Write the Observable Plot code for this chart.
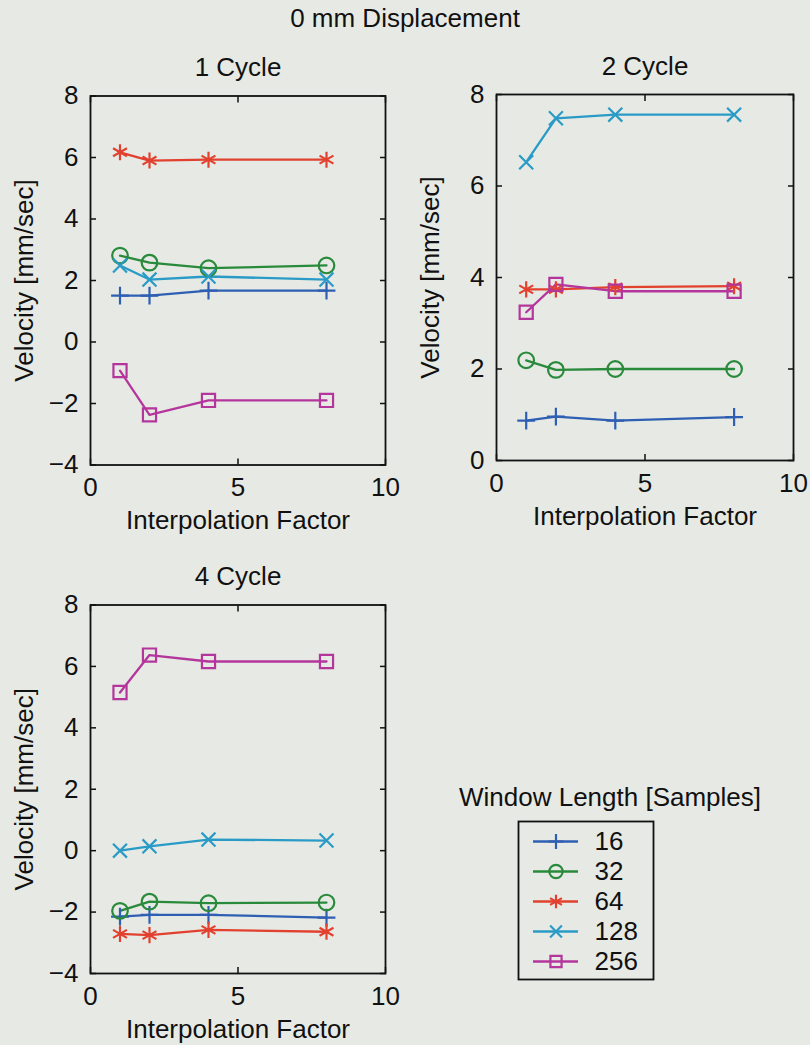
<!DOCTYPE html>
<html>
<head>
<meta charset="utf-8">
<script src="https://cdn.jsdelivr.net/npm/d3@7"></script>
<script src="https://cdn.jsdelivr.net/npm/@observablehq/plot@0.6"></script>
<style>
  html, body { margin: 0; padding: 0; background: #e7eae4; }
  #chart { position: relative; width: 810px; height: 1045px; background: #e7eae4; overflow: hidden;
           font-family: "Liberation Sans", Arial, Helvetica, sans-serif; color: #111; }
  .abs { position: absolute; }
  .txt { position: absolute; font-size: 26px; white-space: nowrap; transform: translate(-50%, -50%); }
  svg { overflow: visible; }
</style>
</head>
<body>
<div id="chart"></div>
<script>
// ---- data ----
const factors = [1, 2, 4, 8];
const windows = ["16", "32", "64", "128", "256"];
const windowColors = ["#2f5fb3", "#2a8a3c", "#e2412f", "#2a9bc6", "#b4369c"];
const windowSymbols = ["plus", "circle", "asterisk", "times", "square"];

// 1 Cycle
const c1_w16  = [1.51, 1.51, 1.67, 1.67];
const c1_w32  = [2.81, 2.58, 2.40, 2.49];
const c1_w64  = [6.17, 5.90, 5.93, 5.93];
const c1_w128 = [2.49, 2.03, 2.13, 2.03];
const c1_w256 = [-0.93, -2.37, -1.90, -1.90];
// 2 Cycle
const c2_w16  = [0.87, 0.96, 0.87, 0.95];
const c2_w32  = [2.19, 1.98, 2.00, 2.00];
const c2_w64  = [3.74, 3.74, 3.79, 3.81];
const c2_w128 = [6.52, 7.48, 7.56, 7.56];
const c2_w256 = [3.24, 3.85, 3.70, 3.70];
// 4 Cycle
const c4_w16  = [-2.15, -2.09, -2.09, -2.18];
const c4_w32  = [-1.96, -1.66, -1.71, -1.69];
const c4_w64  = [-2.71, -2.75, -2.58, -2.64];
const c4_w128 = [0.00, 0.14, 0.36, 0.33];
const c4_w256 = [5.15, 6.37, 6.16, 6.16];

const xTicks = [0, 5, 10];
const yTicksA = [-4, -2, 0, 2, 4, 6, 8];
const yTicksB = [0, 2, 4, 6, 8];

const mainTitle = "0 mm Displacement";
const xLabel = "Interpolation Factor";
const yLabel = "Velocity [mm/sec]";
const legendTitle = "Window Length [Samples]";

// ---- styles ----
const FONT = '"Liberation Sans", Arial, Helvetica, sans-serif';
const markerR = {plus: 5.8, circle: 7.8, asterisk: 7.6, times: 6.4, square: 7.4};

function rowsOf(series) {
  return windows.flatMap((w, i) => factors.map((f, j) => ({factor: f, velocity: series[i][j], window: w})));
}

const chart = document.getElementById("chart");

function addText(str, x, y, size) {
  const d = document.createElement("div");
  d.className = "txt";
  d.style.left = x + "px";
  d.style.top = y + "px";
  if (size) d.style.fontSize = size + "px";
  d.textContent = str;
  chart.appendChild(d);
}

function panel({title, series, yDomain, yTicks, left, top, width, height, margins}) {
  const rows = rowsOf(series);
  const dotMarks = windows.map((w, i) => Plot.dot(rows.filter(d => d.window === w), {
    x: "factor", y: "velocity", symbol: windowSymbols[i], r: markerR[windowSymbols[i]],
    stroke: windowColors[i], fill: "none", strokeWidth: 2.2
  }));
  const p = Plot.plot({
    width, height,
    marginLeft: margins[0], marginRight: margins[1], marginTop: margins[2], marginBottom: margins[3],
    style: {background: "transparent", fontSize: "26px", fontFamily: FONT, color: "#111"},
    x: {domain: [0, 10]},
    y: {domain: yDomain},
    color: {domain: windows, range: windowColors},
    marks: [
      Plot.line(rows, {x: "factor", y: "velocity", z: "window", stroke: "window", strokeWidth: 2.3}),
      ...dotMarks,
      Plot.frame({stroke: "#111", strokeWidth: 1.8}),
      Plot.axisX({anchor: "bottom", ticks: xTicks, tickSize: -6, tickPadding: 19, label: xLabel,
                  labelAnchor: "center", labelOffset: 64, labelArrow: "none", stroke: "#111", strokeWidth: 1.5}),
      Plot.axisX({anchor: "top", ticks: xTicks, tickSize: -6, tickFormat: () => "", label: null, stroke: "#111", strokeWidth: 1.5}),
      Plot.axisY({anchor: "left", ticks: yTicks, tickSize: -6, tickPadding: 18, label: yLabel,
                  labelAnchor: "center", labelOffset: 76, labelArrow: "none", stroke: "#111", strokeWidth: 1.5}),
      Plot.axisY({anchor: "right", ticks: yTicks, tickSize: -6, tickFormat: () => "", label: null, stroke: "#111", strokeWidth: 1.5}),
      Plot.text([title], {text: d => d, frameAnchor: "top", dy: -28, lineAnchor: "middle", fontSize: 26})
    ]
  });
  p.classList.add("abs");
  p.style.left = left + "px";
  p.style.top = top + "px";
  chart.appendChild(p);
}

addText(mainTitle, 405, 18);

panel({title: "1 Cycle", series: [c1_w16, c1_w32, c1_w64, c1_w128, c1_w256], yDomain: [-4, 8], yTicks: yTicksA,
       left: 0, top: 40, width: 405, height: 500, margins: [90, 20, 55.5, 75.5]});
panel({title: "2 Cycle", series: [c2_w16, c2_w32, c2_w64, c2_w128, c2_w256], yDomain: [0, 8], yTicks: yTicksB,
       left: 405, top: 40, width: 405, height: 500, margins: [91, 17, 54, 80]});
panel({title: "4 Cycle", series: [c4_w16, c4_w32, c4_w64, c4_w128, c4_w256], yDomain: [-4, 8], yTicks: yTicksA,
       left: 0, top: 550, width: 405, height: 495, margins: [90, 20, 54.5, 72]});

// ---- legend ----
addText(legendTitle, 610, 797);
const legend = Plot.plot({
  width: 139, height: 162,
  marginLeft: 2, marginRight: 2, marginTop: 2, marginBottom: 2,
  style: {background: "transparent", fontSize: "25px", fontFamily: FONT, color: "#111"},
  y: {type: "point", domain: windows, range: [21, 143], padding: 0, axis: null},
  color: {domain: windows, range: windowColors},
  marks: [
    Plot.frame({stroke: "#111", strokeWidth: 1.8}),
    Plot.ruleY(windows, {y: d => d, stroke: d => d, strokeWidth: 2.3, insetLeft: 15, insetRight: 75}),
    ...windows.map((w, i) => Plot.dot([w], {y: d => d, frameAnchor: "left", dx: 37.5,
        symbol: windowSymbols[i], r: markerR[windowSymbols[i]] * 0.85, stroke: windowColors[i], fill: "none", strokeWidth: 2.2})),
    Plot.text(windows, {y: d => d, text: d => d, frameAnchor: "left", dx: 76, textAnchor: "start", fontSize: 26})
  ]
});
legend.classList.add("abs");
legend.style.left = "516px";
legend.style.top = "819px";
chart.appendChild(legend);
</script>
</body>
</html>
